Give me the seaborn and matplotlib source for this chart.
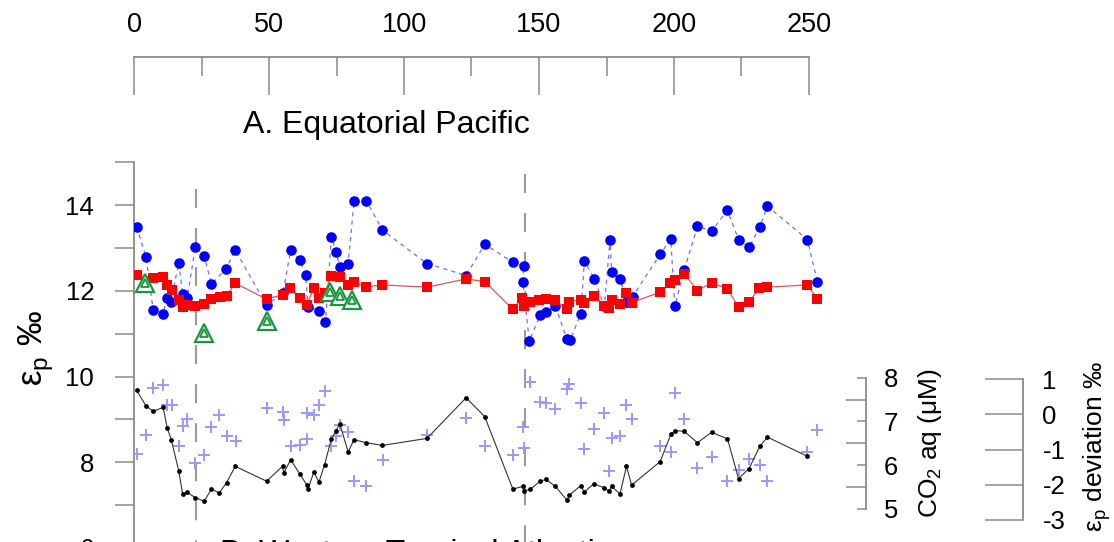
import numpy as np
import pandas as pd
import matplotlib
matplotlib.use("Agg")
import matplotlib.pyplot as plt
import seaborn as sns
from matplotlib.ticker import FixedLocator, NullFormatter

# ---------------- data ----------------
blue_x = [1.0, 4.4, 7.1, 10.8, 12.1, 13.6, 16.6, 18.0, 19.7, 22.7, 26.0, 28.7, 34.0, 37.5,
          49.1, 55.2, 58.0, 61.4, 63.6, 64.5, 68.5, 70.9, 73.1, 74.9, 76.2, 79.3, 81.5, 86.1,
          92.0, 108.5, 123.0, 129.9, 140.3, 144.3, 144.0, 146.4, 150.4, 152.6, 156.1, 160.3,
          161.5, 165.5, 166.8, 170.5, 174.2, 176.3, 176.9, 180.0, 182.4, 184.7, 194.9, 198.8,
          200.3, 203.8, 208.7, 213.9, 219.8, 223.9, 227.8, 231.8, 234.6, 249.4, 253.1]
blue_y = [13.50, 12.80, 11.56, 11.46, 11.84, 11.75, 12.66, 11.93, 11.83, 13.03, 12.81, 12.16,
          12.51, 12.95, 11.67, 11.95, 12.95, 12.72, 12.37, 11.62, 11.54, 11.28, 13.25, 12.91,
          12.55, 12.64, 14.09, 14.10, 13.42, 12.64, 12.36, 13.09, 12.67, 12.58, 12.21, 10.84,
          11.43, 11.50, 11.64, 10.88, 10.86, 11.46, 12.70, 12.29, 11.64, 13.19, 12.45, 12.29,
          11.75, 11.87, 12.86, 13.21, 11.65, 12.49, 13.51, 13.40, 13.88, 13.20, 13.02, 13.50,
          13.98, 13.20, 12.22]

red_x = [1.0, 7.1, 10.8, 12.1, 13.9, 16.6, 18.0, 19.7, 22.7, 26.0, 28.7, 31.8, 34.3, 37.5,
         49.1, 55.0, 57.7, 61.4, 63.9, 66.6, 68.5, 70.6, 73.1, 76.2, 79.3, 81.5, 86.1, 92.0,
         108.5, 123.0, 129.9, 140.3, 143.7, 144.3, 146.7, 150.1, 152.6, 156.1, 160.3, 161.2,
         165.5, 166.8, 170.2, 174.2, 176.0, 176.9, 180.0, 182.4, 184.3, 194.9, 198.6, 200.4,
         203.8, 208.7, 213.9, 219.8, 223.9, 227.8, 231.5, 234.6, 249.4, 253.1]
red_y = [12.37, 12.31, 12.33, 12.14, 12.02, 11.78, 11.62, 11.67, 11.66, 11.69, 11.81, 11.85,
         11.89, 12.18, 11.81, 11.91, 12.06, 11.83, 11.67, 12.06, 11.83, 11.95, 12.35, 12.32,
         12.14, 12.22, 12.10, 12.14, 12.09, 12.28, 12.22, 11.57, 11.84, 11.66, 11.75, 11.78,
         11.81, 11.78, 11.57, 11.75, 11.79, 11.71, 11.89, 11.64, 11.60, 11.79, 11.70, 11.95,
         11.73, 11.97, 12.18, 12.26, 12.40, 12.01, 12.19, 12.05, 11.62, 11.74, 12.06, 12.09,
         12.14, 11.81]

green_x = [4.1, 25.9, 49.1, 72.5, 76.2, 80.9]
green_y = [12.19, 11.02, 11.31, 11.98, 11.89, 11.78]

co2_x = [1.0, 4.4, 7.1, 10.8, 12.3, 13.8, 16.6, 18.0, 19.7, 22.7, 26.0, 28.7, 31.6, 34.3,
         37.5, 49.1, 55.0, 55.5, 58.0, 61.4, 63.9, 64.5, 66.6, 68.5, 70.6, 73.1, 74.9, 76.2,
         79.3, 81.5, 86.1, 92.0, 108.5, 123.0, 129.9, 140.3, 144.0, 144.3, 146.7, 150.4,
         152.6, 156.1, 160.4, 161.2, 165.5, 166.8, 170.2, 174.2, 176.0, 176.9, 180.0, 182.4,
         184.3, 194.9, 198.8, 200.4, 203.8, 208.7, 213.9, 219.8, 223.9, 227.8, 231.8, 234.6,
         249.4]
co2_val = [7.71, 7.36, 7.23, 7.32, 6.85, 6.58, 5.86, 5.34, 5.38, 5.25, 5.17, 5.45, 5.36, 5.60,
           5.97, 5.63, 5.97, 5.82, 6.12, 5.80, 5.55, 5.46, 5.84, 5.61, 6.01, 6.60, 6.79, 6.95,
           6.30, 6.58, 6.51, 6.45, 6.61, 7.54, 7.11, 5.45, 5.51, 5.41, 5.44, 5.63, 5.67, 5.51,
           5.19, 5.31, 5.53, 5.38, 5.57, 5.48, 5.40, 5.51, 5.34, 5.97, 5.54, 6.08, 6.70, 6.79,
           6.77, 6.51, 6.75, 6.60, 5.69, 5.92, 6.43, 6.64, 6.20]

dev_x = [1.0, 4.4, 7.1, 10.8, 12.1, 13.9, 16.6, 18.0, 19.7, 22.7, 25.9, 28.7, 31.6, 34.3,
         37.6, 49.1, 55.0, 55.5, 58.0, 61.4, 63.9, 63.9, 66.6, 68.5, 70.9, 73.1, 74.9, 76.2,
         79.3, 81.5, 86.1, 92.2, 108.5, 123.0, 129.9, 140.3, 144.0, 144.3, 146.7, 150.4,
         152.6, 156.1, 160.3, 161.2, 165.5, 166.8, 170.2, 174.2, 176.0, 176.9, 180.0, 182.4,
         184.3, 194.9, 198.8, 200.4, 203.8, 208.7, 213.9, 219.8, 223.9, 227.8, 231.8, 234.6,
         249.4, 253.1]
dev_val = [-1.13, -0.57, 0.75, 0.85, 0.28, 0.28, -0.90, -0.32, -0.12, -1.37, -1.16, -0.35,
           -0.02, -0.62, -0.76, 0.17, 0.07, -0.16, -0.90, -0.87, -0.70, 0.03, -0.02, 0.26,
           0.67, -0.90, -0.61, -0.29, -0.51, -1.89, -2.03, -1.30, -0.57, -0.09, -0.90, -1.14,
           -0.37, -0.94, 0.91, 0.36, 0.33, 0.15, 0.71, 0.88, 0.33, -0.99, -0.42, 0.03, -1.60,
           -0.66, -0.62, 0.26, -0.12, -0.90, -1.06, 0.62, -0.12, -1.51, -1.20, -1.88, -1.58,
           -1.28, -1.44, -1.89, -1.06, -0.43]

boundary_x = [22.9, 144.8]
boundary_top = [14.38, 14.73]

top_ticks = [0, 50, 100, 150, 200, 250]
top_minor = [25, 75, 125, 175, 225]
left_ticks = [6, 8, 10, 12, 14]
left_minor = [7, 9, 11, 13, 15]
co2_ticks = [5, 6, 7, 8]
co2_minor = [5.5, 6.5, 7.5]
dev_ticks = [-3, -2, -1, 0, 1]

# ---------------- style ----------------
sns.set_theme(style="white")
plt.rcParams["font.family"] = ["Liberation Sans", "DejaVu Sans"]
plt.rcParams["axes.unicode_minus"] = False
plt.rcParams["lines.scale_dashes"] = False
plt.rcParams["text.color"] = "black"
plt.rcParams["xtick.labelcolor"] = "black"
plt.rcParams["ytick.labelcolor"] = "black"

W, H = 1114, 542
GRAY = "#8a8a8a"
fig = plt.figure(figsize=(W / 100, H / 100), dpi=100)

# axes frame: left 134px, right 1023px, top 57px, bottom 600px (beyond figure)
L, R, T, B = 134, 1023, 57, 600
rect = [L / W, (H - B) / H, (R - L) / W, (B - T) / H]
ax = fig.add_axes(rect)
ax.patch.set_alpha(0)

pxu = 2.7
ax.set_xlim(0, (R - L) / pxu)
ax.set_ylim(14 - (B - 205.3) / 42.83, 14 + (205.3 - T) / 42.83)
ymin_main = 14 - (B - 205.3) / 42.83

for s in ["right", "bottom"]:
    ax.spines[s].set_visible(False)
ax.spines["top"].set_bounds(0, 250)
ax.spines["left"].set_bounds(ymin_main, 15)
for s in ["top", "left"]:
    ax.spines[s].set_color(GRAY)
    ax.spines[s].set_linewidth(1.3)

ax.xaxis.set_ticks_position("top")
ax.xaxis.set_major_locator(FixedLocator(top_ticks))
ax.xaxis.set_minor_locator(FixedLocator(top_minor))
ax.tick_params(axis="x", which="major", direction="in", length=27.4, width=1.1,
               color=GRAY, labelcolor="black", labelsize=19.5, pad=14, top=True,
               bottom=False, labeltop=True, labelbottom=False)
ax.tick_params(axis="x", which="minor", direction="in", length=13.7, width=1.1,
               color=GRAY, top=True, bottom=False)
ax.yaxis.set_major_locator(FixedLocator(left_ticks))
ax.yaxis.set_minor_locator(FixedLocator(left_minor))
ax.yaxis.set_minor_formatter(NullFormatter())
ax.tick_params(axis="y", which="both", direction="out", length=13.7, width=1.1,
               color=GRAY, labelcolor="black", labelsize=18.5, pad=15, left=True,
               right=False)

# boundary dashed lines
for bx, bt in zip(boundary_x, boundary_top):
    ax.plot([bx, bx], [bt, ymin_main], color="#9a9a9a", lw=1.5,
            linestyle=(0, (13.7, 14.4)), zorder=1)

# blue circles with dashed line
sns.lineplot(x=blue_x, y=blue_y, sort=False, estimator=None, ax=ax, color="#6f6fff",
             lw=0.9, linestyle=(0, (3, 3)), zorder=2)
sns.scatterplot(x=blue_x, y=blue_y, ax=ax, color="#0000ff", s=58, linewidth=0, zorder=3)
# red squares with line
sns.lineplot(x=red_x, y=red_y, sort=False, estimator=None, ax=ax, color="#e05555",
             lw=0.9, zorder=4)
sns.scatterplot(x=red_x, y=red_y, ax=ax, color="#ff0000", marker="s", s=50, linewidth=0,
                zorder=5)
# green double triangles
ax.plot(green_x, green_y, linestyle="none", marker="^", ms=12.5, mfc="white",
        mec="#1a9641", mew=1.6, zorder=6)
ax.plot(green_x, green_y, linestyle="none", marker="^", ms=6, mfc="#e8f5e8",
        mec="#1a9641", mew=1.3, zorder=7)
ax.set_xlabel("")
ax.set_ylabel("")

# deviation twin axis
axd = ax.twinx()
axd.set_xlim(ax.get_xlim())
axd.set_ylim(1 - (B - 379.3) / 35.17, 1 + (379.3 - T) / 35.17)
for s in ["left", "top", "bottom"]:
    axd.spines[s].set_visible(False)
axd.spines["right"].set_bounds(-3, 1)
axd.spines["right"].set_color(GRAY)
axd.spines["right"].set_linewidth(1.3)
axd.yaxis.set_major_locator(FixedLocator(dev_ticks))
axd.tick_params(axis="y", which="major", direction="in", length=27.4, width=1.1,
                color=GRAY, labelcolor="black", labelsize=18.5, pad=14, right=True,
                left=False)
sns.scatterplot(x=dev_x, y=dev_val, ax=axd, color="#9898ff", marker="+", s=85,
                linewidth=1.4, zorder=2)
axd.set_ylabel("")
axd.set_xlabel("")

# CO2 twin axis
axc = ax.twinx()
axc.set_xlim(ax.get_xlim())
axc.set_ylim(8 - (B - 377.7) / 43.67, 8 + (377.7 - T) / 43.67)
for s in ["left", "top", "bottom"]:
    axc.spines[s].set_visible(False)
axc.spines["right"].set_position(("axes", (866 - L) / (R - L)))
axc.spines["right"].set_bounds(5, 8)
axc.spines["right"].set_color(GRAY)
axc.spines["right"].set_linewidth(1.3)
axc.yaxis.set_major_locator(FixedLocator(co2_ticks))
axc.yaxis.set_minor_locator(FixedLocator(co2_minor))
axc.yaxis.set_minor_formatter(NullFormatter())
axc.tick_params(axis="y", which="major", direction="in", length=6.7, width=1.1,
                color=GRAY, labelcolor="black", labelsize=18.5, pad=13, right=True,
                left=False)
axc.tick_params(axis="y", which="minor", direction="in", length=14.4, width=1.1,
                color=GRAY, right=True, left=False)
sns.lineplot(x=co2_x, y=co2_val, sort=False, estimator=None, ax=axc, color="#333333",
             lw=0.8, zorder=3)
sns.scatterplot(x=co2_x, y=co2_val, ax=axc, color="black", s=12, linewidth=0, zorder=4)
axc.set_ylabel("")
axc.set_xlabel("")

# texts
def ftext(px, py, s, **kw):
    fig.text(px / W, 1 - py / H, s, **kw)

ftext(243, 125, "A. Equatorial Pacific", ha="left", va="center", fontsize=23)
ftext(220, 539, "B. Western Tropical Atlantic", ha="left", va="top", fontsize=23)
ftext(36, 348, "ε$_\\mathregular{p}$ ‰", rotation=90, ha="center", va="center",
      fontsize=25)
ftext(930, 443, "CO$_\\mathregular{2}$ aq (μM)", rotation=90, ha="center", va="center",
      fontsize=19)
ftext(1097, 447, "ε$_\\mathregular{p}$ deviation ‰", rotation=90, ha="center", va="center",
      fontsize=19)

fig.savefig("out.png", dpi=100)
